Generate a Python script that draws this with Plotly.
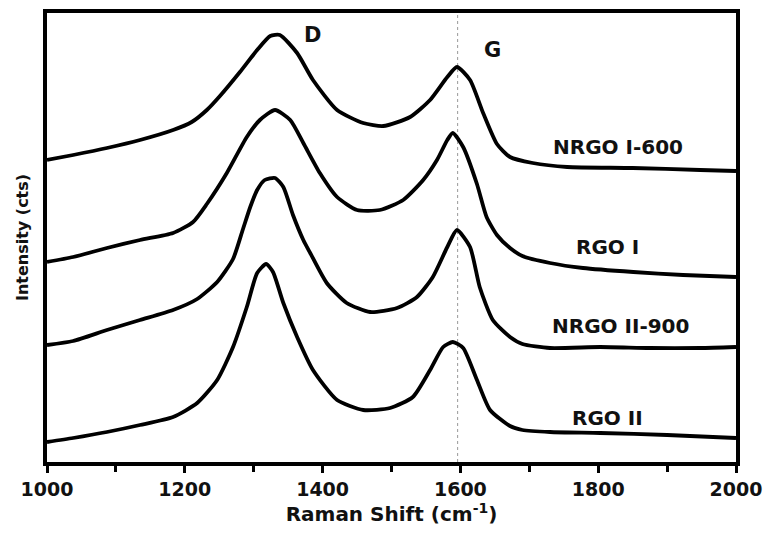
import plotly.graph_objects as go

# Raman shift (cm^-1) and intensity (arbitrary, offset) for each spectrum
nrgo1_x = [1000, 1038, 1087, 1135, 1183, 1210, 1232, 1251, 1280, 1305, 1324, 1338, 1363, 1386, 1421, 1459, 1488,
           1527, 1556, 1581, 1595, 1614, 1633, 1653, 1672, 1705, 1755, 1850, 1948, 2000]
nrgo1_y = [302, 307, 314, 322, 332, 340, 352, 366, 390, 412, 426, 427, 409, 382, 352, 339, 336,
           345, 362, 385, 395, 382, 349, 318, 305, 299, 295, 294, 292, 291]

rgo1_x = [1000, 1038, 1087, 1135, 1183, 1212, 1232, 1261, 1290, 1309, 1331, 1353, 1372, 1396, 1421, 1450,
          1483, 1517, 1546, 1566, 1581, 1589, 1604, 1624, 1638, 1653, 1672, 1690, 1730, 1778, 1851, 1923, 2000]
rgo1_y = [200, 205, 214, 222, 229, 240, 258, 289, 325, 342, 352, 342, 319, 289, 265, 252,
          252, 262, 282, 302, 322, 329, 315, 278, 245, 227, 214, 206, 199, 194, 190, 187, 185]

nrgo2_x = [1000, 1038, 1087, 1135, 1183, 1218, 1247, 1270, 1284, 1295, 1305, 1316, 1331, 1343, 1357, 1372,
           1382, 1406, 1435, 1469, 1508, 1537, 1560, 1581, 1595, 1614, 1628, 1647, 1672, 1690, 1730, 1803,
           1875, 1948, 2000]
nrgo2_y = [117, 121, 132, 142, 152, 163, 180, 203, 232, 255, 272, 282, 284, 275, 247, 222,
           209, 179, 159, 150, 154, 165, 185, 215, 232, 215, 175, 142, 125, 118, 114, 115,
           114, 114, 115]

rgo2_x = [1000, 1038, 1087, 1135, 1183, 1218, 1247, 1270, 1290, 1305, 1318, 1328, 1343, 1363, 1386, 1421,
          1459, 1498, 1531, 1556, 1575, 1589, 1604, 1624, 1643, 1672, 1690, 1730, 1803, 1900, 2000]
rgo2_y = [20, 24, 30, 37, 45, 59, 82, 115, 155, 189, 198, 190, 159, 125, 92, 62,
          52, 54, 65, 92, 115, 120, 114, 82, 52, 36, 32, 30, 29, 27, 24]

series_names = ["NRGO I-600", "RGO I", "NRGO II-900", "RGO II"]
series_x = [nrgo1_x, rgo1_x, nrgo2_x, rgo2_x]
series_y = [nrgo1_y, rgo1_y, nrgo2_y, rgo2_y]

label_x = [1829, 1813, 1832, 1813]
label_y = [315, 215, 136, 44]

g_band = 1596
band_names = ["D", "G"]
band_x = [1386, 1647]
band_y = [427, 412]

FONT = "DejaVu Sans"

fig = go.Figure()
for name, xs, ys in zip(series_names, series_x, series_y):
    fig.add_trace(go.Scatter(x=xs, y=ys, mode="lines", name=name,
                             line=dict(color="black", width=3.8, shape="spline", smoothing=0.6),
                             showlegend=False))

fig.add_shape(type="line", x0=g_band, x1=g_band, y0=0, y1=1, xref="x", yref="paper",
              line=dict(color="#999999", width=1, dash="dot"), layer="below")

for name, lx, ly in zip(series_names, label_x, label_y):
    fig.add_annotation(x=lx, y=ly, text="<b>%s</b>" % name, showarrow=False,
                       font=dict(family=FONT, size=20, color="#111111"))
for name, bx, by in zip(band_names, band_x, band_y):
    fig.add_annotation(x=bx, y=by, text="<b>%s</b>" % name, showarrow=False,
                       font=dict(family=FONT, size=21, color="#111111"))

fig.update_layout(
    width=766, height=534,
    margin=dict(l=47, r=30, t=13, b=72, autoexpand=False),
    paper_bgcolor="white", plot_bgcolor="white",
    xaxis=dict(range=[1000, 2000], dtick=200, tick0=1000, automargin=False,
               showline=True, linecolor="black", linewidth=3.5, mirror=True,
               ticks="outside", ticklen=7, tickwidth=3, tickcolor="black",
               minor=dict(ticks="outside", dtick=100, ticklen=6, tickwidth=3, tickcolor="black"),
               showgrid=False, zeroline=False,
               tickfont=dict(family=FONT, size=19, color="#111111"),
               tickprefix="<b>", ticksuffix="</b>",
               title=dict(text="<b>Raman Shift (cm<sup>-1</sup>)</b>", standoff=8,
                          font=dict(family=FONT, size=20, color="#111111"))),
    yaxis=dict(range=[0, 449], showticklabels=False, ticks="", automargin=False,
               showline=True, linecolor="black", linewidth=3.5, mirror=True,
               showgrid=False, zeroline=False,
               title=dict(text="<b>Intensity (cts)</b>", standoff=12,
                          font=dict(family=FONT, size=16, color="#111111"))),
)

fig.write_html("out.html")
